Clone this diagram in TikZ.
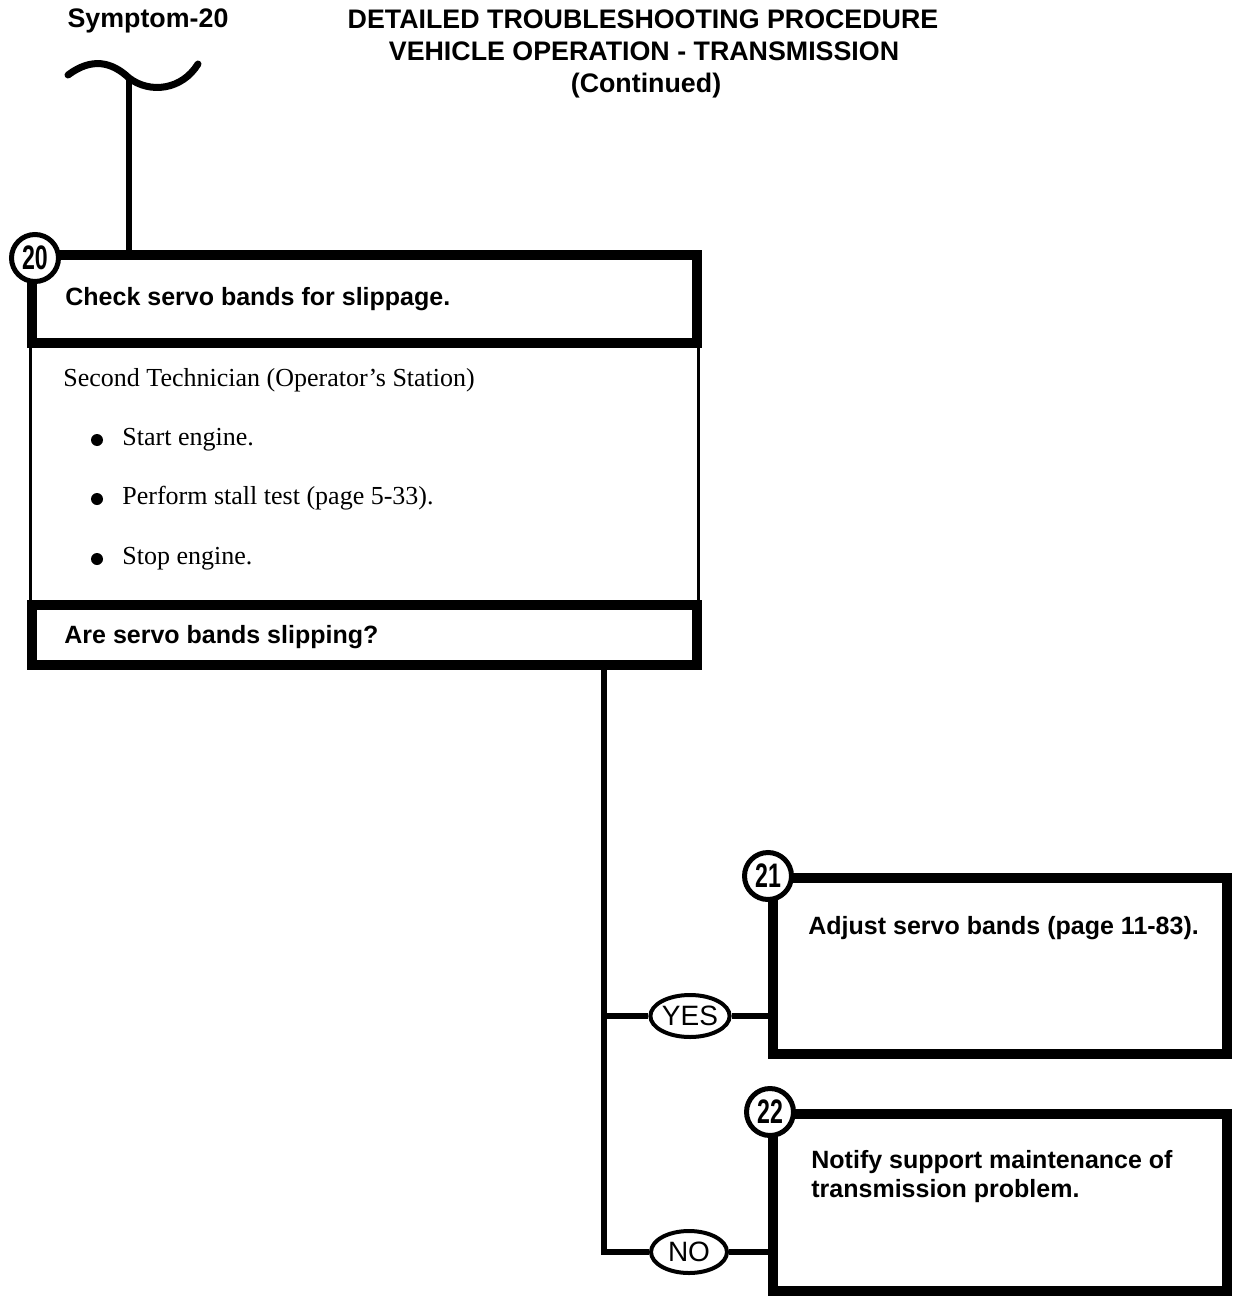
\documentclass[tikz,border=0pt]{standalone}
\usepackage{fontspec}
\usepackage{graphicx}
\setmainfont{Liberation Sans}
\newfontfamily\bodyserif{Liberation Serif}
\usetikzlibrary{shapes.geometric}
\tikzset{
  thickframe/.style={draw, line width=5pt, inner sep=0pt, outer sep=0pt},
  thinframe/.style={draw, line width=1.5pt, inner sep=0pt, outer sep=0pt},
  numcircle/.style={circle, draw, fill=white, line width=2.5pt, minimum size=23.5pt, inner sep=0pt,
     font=\bfseries\fontsize{17}{17}\selectfont},
  answer/.style={ellipse, draw, fill=white, line width=2pt, minimum width=38pt, minimum height=21pt,
     inner sep=0pt, font=\fontsize{14}{14}\selectfont},
  conn/.style={line width=3pt},
  boxtext/.style={anchor=base west, inner sep=0pt, font=\bfseries\fontsize{12.5}{14}\selectfont},
  serittext/.style={anchor=base west, inner sep=0pt, font=\bodyserif\fontsize{13}{14}\selectfont},
  titletext/.style={anchor=base, inner sep=0pt, font=\bfseries\fontsize{13.4}{14}\selectfont},
  bulletdot/.style={circle, fill=black, inner sep=0pt, minimum size=6pt},
}
\newcommand{\circnum}[1]{\scalebox{0.68}[1]{#1}}
\begin{document}
\begin{tikzpicture}[x=0.5pt,y=-0.5pt]
\useasboundingbox (0,0) rectangle (1233,1299);
% titles
\node[titletext] (sym) at (148,28) {Symptom-20};
\node[titletext] (title1) at (643,29) {DETAILED TROUBLESHOOTING PROCEDURE};
\node[titletext] (title2) at (644,61) {VEHICLE OPERATION - TRANSMISSION};
\node[titletext] (title3) at (646,93) {(Continued)};
% tilde entry symbol
\draw[line width=3.5pt, line cap=round] (68,75) .. controls (92,57) and (112,62) .. (129,78)
   .. controls (150,94) and (182,90) .. (198,64);
\coordinate (entry) at (129,79);
% box 20
\node[thinframe, minimum width=334pt, minimum height=131pt] (b20b) at (364.5,474) {};
\node[thickframe, minimum width=332.5pt, minimum height=44pt] (b20h) at (364.5,299) {};
\node[thickframe, minimum width=332.5pt, minimum height=30pt] (b20f) at (364.5,635) {};
\draw[conn] (entry) -- (entry |- b20h.north);
\node[numcircle] (c20) at (35,258) {\circnum{20}};
\node[boxtext] (t20) at (65,306) {Check servo bands for slippage.};
\node[serittext] (s0) at (63,386) {Second Technician (Operator’s Station)};
\node[bulletdot] (d1) at (97,440) {};
\node[serittext] (s1) at (122,445) {Start engine.};
\node[bulletdot] (d2) at (97,499) {};
\node[serittext] (s2) at (122,504) {Perform stall test (page 5-33).};
\node[bulletdot] (d3) at (97,559) {};
\node[serittext] (s3) at (122,564) {Stop engine.};
\node[boxtext] (q20) at (64,643) {Are servo bands slipping?};
% box 21
\node[thickframe, minimum width=227pt, minimum height=88pt] (b21) at (1000,966) {};
\node[numcircle] (c21) at (768,876) {\circnum{21}};
\node[boxtext] (t21) at (808,934) {Adjust servo bands (page 11-83).};
% box 22
\node[thickframe, minimum width=227pt, minimum height=88.5pt] (b22) at (1000,1202.5) {};
\node[numcircle] (c22) at (770,1112) {\circnum{22}};
\node[boxtext] (t22a) at (811,1168) {Notify support maintenance of};
\node[boxtext] (t22b) at (811,1197) {transmission problem.};
% answers
\node[answer] (yes) at (690,1016) {YES};
\node[answer] (no) at (689,1252) {NO};
% connectors
\coordinate (corner) at (604,1252);
\draw[conn, line join=miter] (corner |- b20f.south) -- (corner) -- (no.west);
\draw[conn] (corner |- yes) -- (yes.west);
\draw[conn] (yes.east) -- (yes -| b21.west);
\draw[conn] (no.east) -- (no -| b22.west);
\end{tikzpicture}
\end{document}
